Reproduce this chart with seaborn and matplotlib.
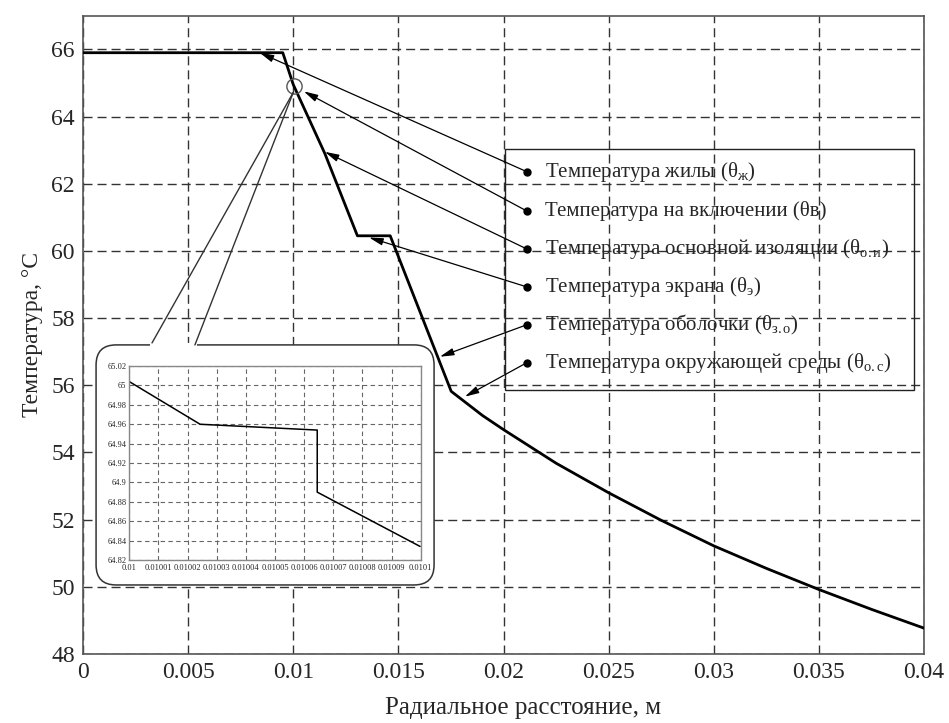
import numpy as np
import pandas as pd
import seaborn as sns
import matplotlib
matplotlib.use("Agg")
import matplotlib.pyplot as plt
from matplotlib.patches import FancyBboxPatch, Rectangle

sns.set_theme(style="white")
plt.rcParams["font.family"] = ["Liberation Serif", "DejaVu Serif"]
plt.rcParams["mathtext.fontset"] = "custom"
plt.rcParams["mathtext.rm"] = "Liberation Serif"
plt.rcParams["mathtext.it"] = "Liberation Serif:italic"

# main curve
radius = [0.0, 0.0095, 0.01, 0.0115, 0.01305, 0.01461, 0.01751, 0.019, 0.02,
          0.0225, 0.025, 0.0275, 0.03, 0.0325, 0.035, 0.0375, 0.04]
temp = [65.9, 65.9, 64.95, 62.9, 60.45, 60.45, 55.82, 55.1, 54.68,
        53.68, 52.8, 51.98, 51.22, 50.55, 49.92, 49.33, 48.77]

# zoomed part around r = 0.01
zoom_r = [0.01, 0.0100243, 0.0100645, 0.0100645, 0.0100998]
zoom_t = [65.004, 64.960, 64.954, 64.890, 64.834]

x_ticks = [0, 0.005, 0.01, 0.015, 0.02, 0.025, 0.03, 0.035, 0.04]
x_labels = ["0", "0.005", "0.01", "0.015", "0.02", "0.025", "0.03", "0.035", "0.04"]
y_ticks = list(range(48, 67, 2))
zx_ticks = [0.01 + i * 1e-5 for i in range(11)]
zx_labels = ["0.01"] + ["0.0100%d" % i for i in range(1, 10)] + ["0.0101"]
zy_ticks = [64.82, 64.84, 64.86, 64.88, 64.9, 64.92, 64.94, 64.96, 64.98, 65.0, 65.02]
zy_labels = ["64.82", "64.84", "64.86", "64.88", "64.9", "64.92", "64.94",
             "64.96", "64.98", "65", "65.02"]

legend_texts = [
    "Температура жилы (θ$_{\\mathrm{ж}}$)",
    "Температура на включении (θв)",
    "Температура основной изоляции (θ$_{\\mathrm{о.и}}$)",
    "Температура экрана (θ$_{\\mathrm{э}}$)",
    "Температура оболочки (θ$_{\\mathrm{з.о}}$)",
    "Температура окружающей среды (θ$_{\\mathrm{о.с}}$)",
]
# where each arrow points on the curve
arrow_x = [0.0084, 0.0105, 0.0115, 0.0136, 0.01697, 0.01816]
arrow_y = [65.9, 64.75, 62.95, 60.4, 56.85, 55.66]
bullet_y = [62.36, 61.19, 60.06, 58.93, 57.8, 56.67]

fig = plt.figure(figsize=(9.49, 7.23), dpi=100)
ax = fig.add_axes([0.0875, 0.0954, 0.8862, 0.8828])

grid_kw = dict(color="#333333", lw=1.0, linestyle=(0, (6.5, 3.6)))
ax.grid(True, **grid_kw)
sns.lineplot(x=radius, y=temp, color="black", lw=2.0, estimator=None,
             sort=False, ax=ax, zorder=3)

ax.set_xlim(0, 0.04)
ax.set_ylim(48, 67)
ax.set_xticks(x_ticks)
ax.set_xticklabels(x_labels)
ax.set_yticks(y_ticks)
ax.tick_params(direction="in", length=7, labelsize=17, color="#444444", pad=6)
for s in ax.spines.values():
    s.set_color("#555555")
    s.set_linewidth(1.2)
ax.set_xlabel("Радиальное расстояние, м", fontsize=18)
ax.xaxis.set_label_coords(0.523, -0.068)
ax.set_ylabel("Температура, °С", fontsize=17, labelpad=6)

# legend-like box with bullets and arrows
ax.add_patch(Rectangle((0.02006, 55.86), 0.03954 - 0.02006, 63.02 - 55.86,
                       fill=False, ec="#222222", lw=1.0, zorder=4))
bx = 0.0211
for txt, yb, xa, ya in zip(legend_texts, bullet_y, arrow_x, arrow_y):
    ax.plot(bx, yb, "o", color="black", ms=5, zorder=6)
    ax.annotate("", xy=(xa, ya), xytext=(bx, yb),
                arrowprops=dict(arrowstyle="-|>,head_length=0.7,head_width=0.18",
                                color="black", lw=0.9, shrinkA=0, shrinkB=0),
                zorder=5)
    ax.text(0.02196, yb, txt, fontsize=15, va="center", ha="left", zorder=6)

# callout for the zoomed region
ax.plot(0.01003, 64.91, "o", ms=11, mfc="none", mec="#555555", mew=1.0, zorder=5)
callout = FancyBboxPatch((0.0155, 0.1082), 0.4174 - 0.0155, 0.4843 - 0.1082,
                         boxstyle="round,pad=0,rounding_size=0.0238",
                         mutation_aspect=841 / 638, transform=ax.transAxes,
                         fc="white", ec="#333333", lw=1.1, zorder=7)
ax.add_patch(callout)
ax.plot([0.00328, 0.00532], [57.2, 57.2], color="white", lw=3, zorder=8)
ax.plot([0.00328, 0.0100], [57.26, 64.72], color="#333333", lw=1.0, zorder=8)
ax.plot([0.00532, 0.0100], [57.2, 64.72], color="#333333", lw=1.0, zorder=8)

ins = fig.add_axes([0.1362, 0.2254, 0.3071, 0.2683], zorder=10)
ins.grid(True, color="#666666", lw=0.8, linestyle=(0, (4, 3)))
sns.lineplot(x=zoom_r, y=zoom_t, color="black", lw=1.1, estimator=None,
             sort=False, ax=ins)
ins.set_xlim(0.01, 0.0101)
ins.set_ylim(64.82, 65.02)
ins.set_xticks(zx_ticks)
ins.set_xticklabels(zx_labels)
ins.set_yticks(zy_ticks)
ins.set_yticklabels(zy_labels)
ins.tick_params(axis="x", length=0, labelsize=6, pad=2.5)
ins.tick_params(axis="y", length=0, labelsize=6, pad=2)
for s in ins.spines.values():
    s.set_color("#888888")
    s.set_linewidth(1.0)

fig.savefig("out.png", dpi=100)
